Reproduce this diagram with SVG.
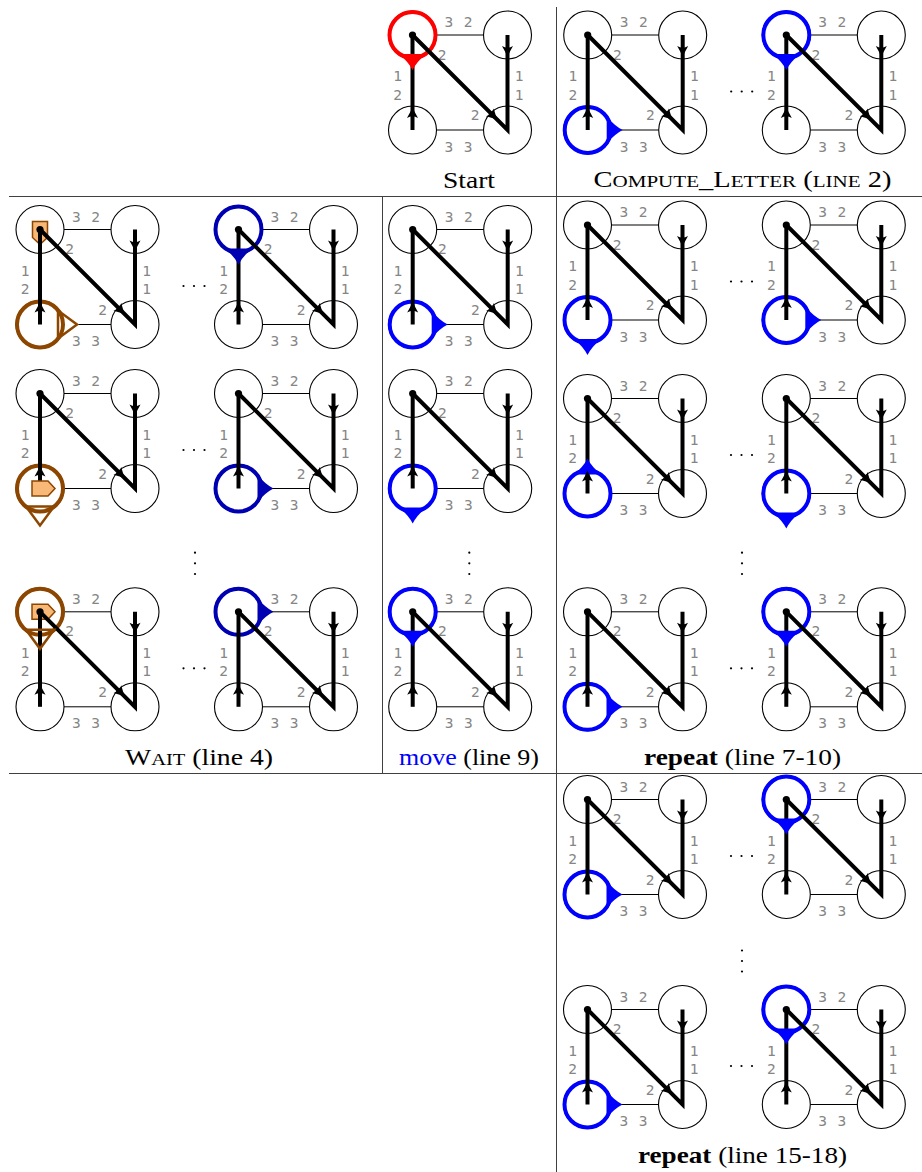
<svg xmlns="http://www.w3.org/2000/svg" width="922" height="1172" viewBox="0 0 922 1172">
<style>
.nd{fill:none;stroke:#000;stroke-width:1.1}
.te{stroke:#000;stroke-width:1}
.lb{font-family:"DejaVu Sans Mono",monospace;font-size:14.5px;fill:#858585}
.sp{letter-spacing:0.9px}
.th{fill:none;stroke:#000;stroke-width:4;stroke-linejoin:miter;stroke-miterlimit:10}
.ring{fill:none;stroke-width:4}
.cap{font-family:"Liberation Serif","Times New Roman",serif;font-size:23px;fill:#000}
.grid{stroke:#404040;stroke-width:1}
.hto{fill:none;stroke:#8C4600;stroke-width:2.5}
</style>
<defs>
<g id="base">
<circle class="nd" cx="0" cy="0" r="24"/>
<circle class="nd" cx="95" cy="0" r="24"/>
<circle class="nd" cx="0" cy="95" r="24"/>
<circle class="nd" cx="95" cy="95" r="24"/>
<line class="te" x1="24" y1="0" x2="71" y2="0"/>
<line class="te" x1="24" y1="95" x2="71" y2="95"/>
<text class="lb sp" x="32" y="-8">3 2</text>
<text class="lb" x="25.3" y="24.5">2</text>
<text class="lb" x="-19.3" y="46">1</text>
<text class="lb" x="-19.3" y="64.5">2</text>
<text class="lb" x="102.3" y="46">1</text>
<text class="lb" x="102.3" y="64.5">1</text>
<text class="lb" x="58.2" y="85">2</text>
<text class="lb sp" x="32" y="116.5">3 3</text>
</g>
<g id="lines">
<path class="th" d="M0,95 L0,0"/>
<path class="th" d="M0,0 L95,95 L95,0"/>
<circle cx="0" cy="0" r="3.6" fill="#000"/>
</g>
<path id="ah" d="M1,0 Q-4,-2 -10,-5.5 Q-6.5,0 -10,5.5 Q-4,2 1,0 Z" fill="#000"/>
<g id="arrows">
<use href="#ah" transform="translate(0,73) rotate(-90)"/>
<use href="#ah" transform="translate(95,21) rotate(90)"/>
<use href="#ah" transform="translate(84.4,84.4) rotate(45)"/>
</g>
<path id="ptr" d="M19,-13.5 Q27,-4 35,0 Q27,4 19,13.5 Z"/>
<path id="htri" d="M18,-14 L37,0 L18,14 Z"/>
<path id="pent" d="M-8,-7.5 L8,-7.5 L15,0 L8,7.5 L-8,7.5 Z" fill="#F8B878" stroke="#8C4600" stroke-width="1.5"/>
</defs>

<g id="grid">
<line class="grid" x1="556.5" y1="7" x2="556.5" y2="1172"/>
<line class="grid" x1="9" y1="196.5" x2="922" y2="196.5"/>
<line class="grid" x1="9" y1="773.5" x2="922" y2="773.5"/>
<line class="grid" x1="382.5" y1="196.5" x2="382.5" y2="773.5"/>
</g>

<!-- Start -->
<g id="g-start" transform="translate(412.5,35)">
<use href="#base"/><circle class="ring" r="23" stroke="#f00"/><use href="#lines"/>
<use href="#ptr" fill="#f00" transform="rotate(90)"/><use href="#arrows"/>
</g>
<!-- Compute letter -->
<g id="g-cl1" transform="translate(587.7,35)">
<use href="#base"/><circle class="ring" cy="95" r="23" stroke="#00f"/><use href="#lines"/>
<use href="#ptr" fill="#00f" transform="translate(0,95)"/><use href="#arrows"/>
</g>
<g id="g-cl2" transform="translate(786.3,35)">
<use href="#base"/><circle class="ring" r="23" stroke="#00f"/><use href="#lines"/>
<use href="#ptr" fill="#00f" transform="rotate(90)"/><use href="#arrows"/>
</g>

<!-- Wait -->
<g id="g-w11" transform="translate(40,229.5)">
<use href="#base"/><use href="#pent" transform="rotate(90)"/>
<use href="#htri" fill="#fff" transform="translate(0,95)"/>
<circle class="ring" cy="95" r="23" stroke="#8C4600"/><use href="#lines"/>
<use href="#htri" class="hto" transform="translate(0,95)"/><use href="#arrows"/>
</g>
<g id="g-w12" transform="translate(238.5,229.5)">
<use href="#base"/><circle class="ring" r="23" stroke="#0000B3"/><use href="#lines"/>
<use href="#ptr" fill="#0000B3" transform="rotate(90)"/><use href="#arrows"/>
</g>
<g id="g-w21" transform="translate(40,393.5)">
<use href="#base"/>
<use href="#htri" fill="#fff" transform="translate(0,95) rotate(90)"/>
<circle class="ring" cy="95" r="23" stroke="#8C4600"/><use href="#lines"/>
<use href="#pent" transform="translate(0,95)"/>
<use href="#htri" class="hto" transform="translate(0,95) rotate(90)"/><use href="#arrows"/>
</g>
<g id="g-w22" transform="translate(238.5,393.5)">
<use href="#base"/><circle class="ring" cy="95" r="23" stroke="#0000B3"/><use href="#lines"/>
<use href="#ptr" fill="#0000B3" transform="translate(0,95)"/><use href="#arrows"/>
</g>
<g id="g-w31" transform="translate(40,611.8)">
<use href="#base"/><use href="#pent"/>
<use href="#htri" fill="#fff" transform="rotate(90)"/>
<circle class="ring" r="23" stroke="#8C4600"/><use href="#lines"/>
<use href="#htri" class="hto" transform="rotate(90)"/><use href="#arrows"/>
</g>
<g id="g-w32" transform="translate(238.5,611.8)">
<use href="#base"/><circle class="ring" r="23" stroke="#0000B3"/><use href="#lines"/>
<use href="#ptr" fill="#0000B3"/><use href="#arrows"/>
</g>

<!-- Move -->
<g id="g-m1" transform="translate(412.7,229.5)">
<use href="#base"/><circle class="ring" cy="95" r="23" stroke="#00f"/><use href="#lines"/>
<use href="#ptr" fill="#00f" transform="translate(0,95)"/><use href="#arrows"/>
</g>
<g id="g-m2" transform="translate(412.7,393.5)">
<use href="#base"/><circle class="ring" cy="95" r="23" stroke="#00f"/><use href="#lines"/>
<use href="#ptr" fill="#00f" transform="translate(0,95) rotate(90)"/><use href="#arrows"/>
</g>
<g id="g-m3" transform="translate(412.7,611.8)">
<use href="#base"/><circle class="ring" r="23" stroke="#00f"/><use href="#lines"/>
<use href="#ptr" fill="#00f" transform="rotate(90)"/><use href="#arrows"/>
</g>

<!-- Repeat 7-10 -->
<g id="g-r11" transform="translate(587.5,225)">
<use href="#base"/><circle class="ring" cy="95" r="23" stroke="#00f"/><use href="#lines"/>
<use href="#ptr" fill="#00f" transform="translate(0,95) rotate(90)"/><use href="#arrows"/>
</g>
<g id="g-r12" transform="translate(786.3,225)">
<use href="#base"/><circle class="ring" cy="95" r="23" stroke="#00f"/><use href="#lines"/>
<use href="#ptr" fill="#00f" transform="translate(0,95)"/><use href="#arrows"/>
</g>
<g id="g-r21" transform="translate(587.5,398.5)">
<use href="#base"/><circle class="ring" cy="95" r="23" stroke="#00f"/><use href="#lines"/>
<use href="#ptr" fill="#00f" transform="translate(0,95) rotate(-90)"/><use href="#arrows"/>
</g>
<g id="g-r22" transform="translate(786.3,398.5)">
<use href="#base"/><circle class="ring" cy="95" r="23" stroke="#00f"/><use href="#lines"/>
<use href="#ptr" fill="#00f" transform="translate(0,95) rotate(90)"/><use href="#arrows"/>
</g>
<g id="g-r31" transform="translate(587.5,611.8)">
<use href="#base"/><circle class="ring" cy="95" r="23" stroke="#00f"/><use href="#lines"/>
<use href="#ptr" fill="#00f" transform="translate(0,95)"/><use href="#arrows"/>
</g>
<g id="g-r32" transform="translate(786.3,611.8)">
<use href="#base"/><circle class="ring" r="23" stroke="#00f"/><use href="#lines"/>
<use href="#ptr" fill="#00f" transform="rotate(90)"/><use href="#arrows"/>
</g>

<!-- Repeat 15-18 -->
<g id="g-b11" transform="translate(587.5,799.5)">
<use href="#base"/><circle class="ring" cy="95" r="23" stroke="#00f"/><use href="#lines"/>
<use href="#ptr" fill="#00f" transform="translate(0,95)"/><use href="#arrows"/>
</g>
<g id="g-b12" transform="translate(786.3,799.5)">
<use href="#base"/><circle class="ring" r="23" stroke="#00f"/><use href="#lines"/>
<use href="#ptr" fill="#00f" transform="rotate(90)"/><use href="#arrows"/>
</g>
<g id="g-b21" transform="translate(587.5,1009.5)">
<use href="#base"/><circle class="ring" cy="95" r="23" stroke="#00f"/><use href="#lines"/>
<use href="#ptr" fill="#00f" transform="translate(0,95)"/><use href="#arrows"/>
</g>
<g id="g-b22" transform="translate(786.3,1009.5)">
<use href="#base"/><circle class="ring" r="23" stroke="#00f"/><use href="#lines"/>
<use href="#ptr" fill="#00f" transform="rotate(90)"/><use href="#arrows"/>
</g>

<!-- ellipses -->
<g id="dots" fill="#000">
<circle cx="731.2" cy="91.5" r="1.1"/><circle cx="741.7" cy="91.5" r="1.1"/><circle cx="752.2" cy="91.5" r="1.1"/>
<circle cx="183.5" cy="286" r="1.1"/><circle cx="194" cy="286" r="1.1"/><circle cx="204.5" cy="286" r="1.1"/>
<circle cx="183.5" cy="450" r="1.1"/><circle cx="194" cy="450" r="1.1"/><circle cx="204.5" cy="450" r="1.1"/>
<circle cx="183.5" cy="668.3" r="1.1"/><circle cx="194" cy="668.3" r="1.1"/><circle cx="204.5" cy="668.3" r="1.1"/>
<circle cx="731" cy="281.5" r="1.1"/><circle cx="741.5" cy="281.5" r="1.1"/><circle cx="752" cy="281.5" r="1.1"/>
<circle cx="731" cy="455" r="1.1"/><circle cx="741.5" cy="455" r="1.1"/><circle cx="752" cy="455" r="1.1"/>
<circle cx="731" cy="668.3" r="1.1"/><circle cx="741.5" cy="668.3" r="1.1"/><circle cx="752" cy="668.3" r="1.1"/>
<circle cx="731" cy="856" r="1.1"/><circle cx="741.5" cy="856" r="1.1"/><circle cx="752" cy="856" r="1.1"/>
<circle cx="731" cy="1066" r="1.1"/><circle cx="741.5" cy="1066" r="1.1"/><circle cx="752" cy="1066" r="1.1"/>
<circle cx="195" cy="552.7" r="1.1"/><circle cx="195" cy="563.3" r="1.1"/><circle cx="195" cy="574" r="1.1"/>
<circle cx="469.3" cy="552.7" r="1.1"/><circle cx="469.3" cy="563.3" r="1.1"/><circle cx="469.3" cy="574" r="1.1"/>
<circle cx="742" cy="552.7" r="1.1"/><circle cx="742" cy="563.3" r="1.1"/><circle cx="742" cy="574" r="1.1"/>
<circle cx="742" cy="950.5" r="1.1"/><circle cx="742" cy="961" r="1.1"/><circle cx="742" cy="971.5" r="1.1"/>
</g>

<!-- captions -->
<g id="captions">
<text class="cap" x="469" y="187.5" text-anchor="middle" textLength="52" lengthAdjust="spacingAndGlyphs">Start</text>
<text class="cap" x="742.5" y="187" text-anchor="middle" textLength="298" lengthAdjust="spacingAndGlyphs">C<tspan font-size="17">OMPUTE</tspan>_L<tspan font-size="17">ETTER</tspan> (<tspan font-size="17">LINE</tspan> 2)</text>
<text class="cap" x="199" y="764.5" text-anchor="middle" textLength="148" lengthAdjust="spacingAndGlyphs">W<tspan font-size="17">AIT</tspan> (line 4)</text>
<text class="cap" x="469" y="764.5" text-anchor="middle" textLength="140" lengthAdjust="spacingAndGlyphs"><tspan fill="#00f">move</tspan> (line 9)</text>
<text class="cap" x="742.5" y="764.5" text-anchor="middle" textLength="197" lengthAdjust="spacingAndGlyphs"><tspan font-weight="bold">repeat</tspan> (line 7-10)</text>
<text class="cap" x="742.5" y="1163" text-anchor="middle" textLength="209" lengthAdjust="spacingAndGlyphs"><tspan font-weight="bold">repeat</tspan> (line 15-18)</text>
</g>
</svg>
